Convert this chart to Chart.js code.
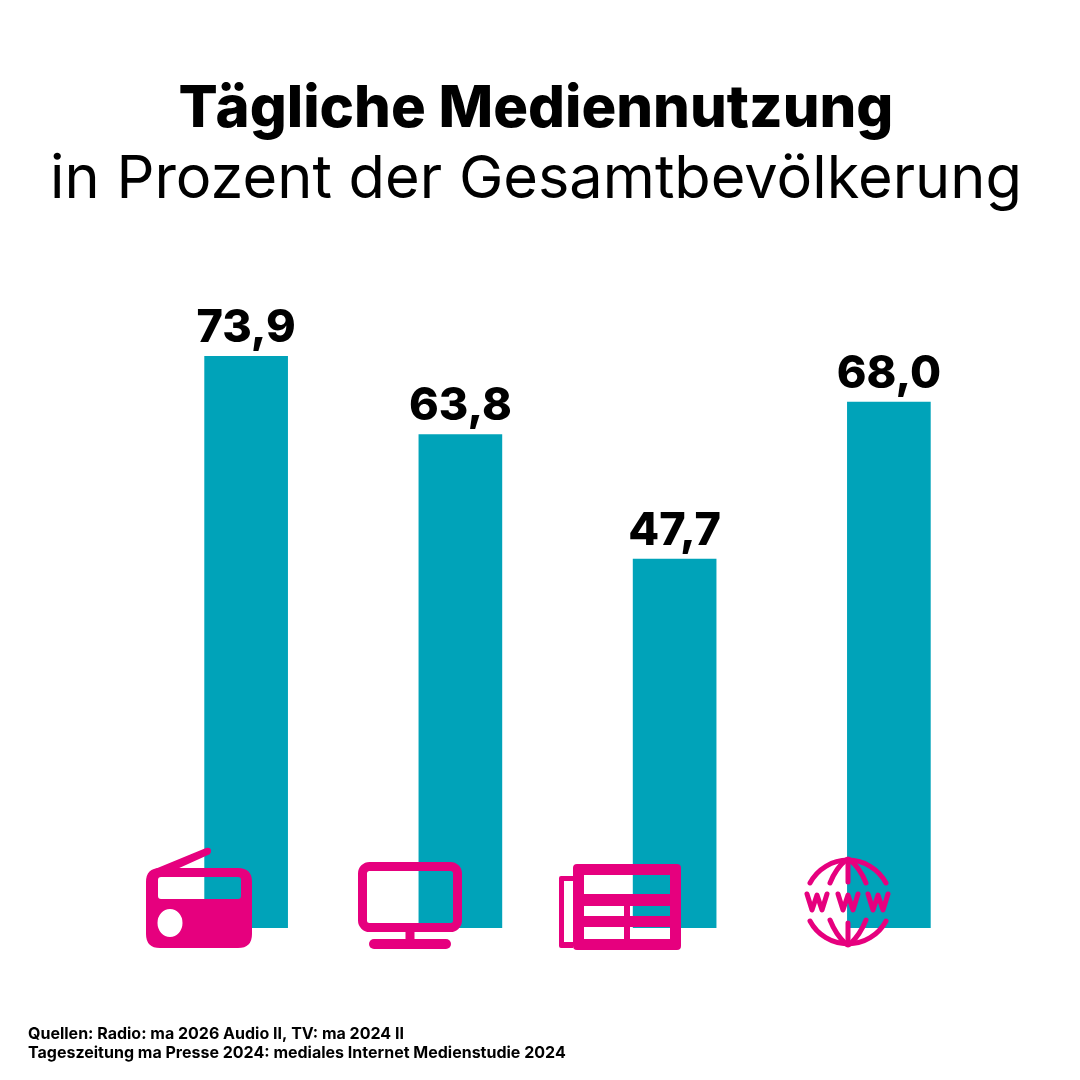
<!DOCTYPE html>
<html lang="de">
<head>
  <meta charset="UTF-8" />
  <title>Tägliche Mediennutzung</title>
  <script src="https://cdn.jsdelivr.net/npm/chart.js"></script>
  <style>
    body { margin: 0; background: #ffffff; }
    .wrap { position: relative; width: 1080px; height: 1080px; }
    canvas { position: absolute; left: 0; top: 0; }
    svg.icons { position: absolute; left: 0; top: 0; }
  </style>
</head>
<body>
  <div class="wrap">
    <canvas id="mediaChart" width="1080" height="1080"></canvas>
    <svg class="icons" width="1080" height="1080" viewBox="0 0 1080 1080">
      <!-- radio -->
      <g fill="#e6007e">
        <path fill-rule="evenodd" d="M160 868 H238 Q252 868 252 882 V934 Q252 948 238 948 H160 Q146 948 146 934 V882 Q146 868 160 868 Z
          M161 877 Q158 877 158 880 V896 Q158 899 161 899 H238 Q241 899 241 896 V880 Q241 877 238 877 Z
          M170 909 A12.5 14 0 1 0 170 937 A12.5 14 0 1 0 170 909 Z" />
        <path d="M155 869 L206 848 Q211 847 211 851 Q211 854 208 855 L177 869 Z" />
      </g>
      <!-- tv -->
      <g fill="none" stroke="#e6007e">
        <rect x="362.5" y="866.5" width="95" height="61" rx="7" stroke-width="9" />
        <line x1="410" y1="932" x2="410" y2="942" stroke-width="9" />
        <line x1="374" y1="944" x2="446" y2="944" stroke-width="10" stroke-linecap="round" />
      </g>
      <!-- newspaper -->
      <g fill="#e6007e">
        <path fill-rule="evenodd" d="M577 864 H677 Q681 864 681 868 V946 Q681 950 677 950 H577 Q573 950 573 946 V868 Q573 864 577 864 Z
          M584 875 V894 H670 V875 Z M584 906 V916 H624 V906 Z M630 906 V916 H670 V906 Z M584 927 V939 H624 V927 Z M630 927 V939 H670 V927 Z" />
        <path fill-rule="evenodd" d="M561 876 H573 V881 H564 V942 H573 V948 H561 Q559 948 559 946 V878 Q559 876 561 876 Z" />
      </g>
      <!-- www globe -->
      <g fill="none" stroke="#e6007e" stroke-width="5" stroke-linecap="round" stroke-linejoin="round">
        <path d="M810 883 A43 43 0 0 1 886 883" />
        <path d="M810 921 A43 43 0 0 0 886 921" />
        <path d="M848 859 V882 M848 923 V945" />
        <path d="M830 883 Q836 868 846 860 M866 883 Q860 868 850 860" />
        <path d="M830 920 Q836 935 846 944 M866 920 Q860 935 850 944" />
        <path d="M807 894 L812 910 L817 895 L822 910 L827 894" />
        <path d="M838 894 L843 910 L848 895 L853 910 L858 894" />
        <path d="M868 894 L873 910 L878 895 L883 910 L888 894" />
      </g>
    </svg>
  </div>

  <script>
    const mediaLabels = ['Radio', 'TV', 'Tageszeitung', 'Internet'];
    const usagePercent = [73.9, 63.8, 47.7, 68.0];
    const sourceLines = [
      'Quellen: Radio: ma 2026 Audio II, TV: ma 2024 II',
      'Tageszeitung ma Presse 2024: mediales Internet Medienstudie 2024'
    ];

    const fontFamily = 'Inter, sans-serif';

    // value labels above the bars, German decimal comma
    const valueLabels = {
      id: 'valueLabels',
      afterDatasetsDraw(chart) {
        const ctx = chart.ctx;
        const bars = chart.getDatasetMeta(0).data;
        ctx.save();
        ctx.fillStyle = '#000000';
        ctx.textAlign = 'center';
        ctx.textBaseline = 'alphabetic';
        ctx.font = '800 45px ' + fontFamily;
        bars.forEach((bar, i) => {
          ctx.fillText(usagePercent[i].toFixed(1).replace('.', ','), bar.x, bar.y - 14);
        });
        ctx.restore();
      }
    };

    const sourceNote = {
      id: 'sourceNote',
      afterDraw(chart) {
        const ctx = chart.ctx;
        ctx.save();
        ctx.fillStyle = '#000000';
        ctx.textAlign = 'left';
        ctx.font = '700 16px ' + fontFamily;
        sourceLines.forEach((line, i) => ctx.fillText(line, 28, 1039 + i * 19));
        ctx.restore();
      }
    };

    new Chart(document.getElementById('mediaChart'), {
      type: 'bar',
      data: {
        labels: mediaLabels,
        datasets: [{
          data: usagePercent,
          backgroundColor: '#00a3b9',
          barThickness: 83
        }]
      },
      plugins: [valueLabels, sourceNote],
      options: {
        responsive: false,
        animation: false,
        layout: { padding: { right: 8, bottom: 152 } },
        plugins: {
          legend: { display: false },
          tooltip: { enabled: false },
          title: {
            display: true,
            text: 'Tägliche Mediennutzung',
            color: '#000000',
            font: { family: fontFamily, size: 58, weight: '800' },
            padding: { top: 75, bottom: 0 }
          },
          subtitle: {
            display: true,
            text: 'in Prozent der Gesamtbevölkerung',
            color: '#000000',
            font: { family: fontFamily, size: 59.5, weight: '400' },
            padding: { top: 0, bottom: 68.4 }
          }
        },
        scales: {
          x: { display: false },
          y: {
            min: 0,
            max: 83.2,
            grid: { display: false },
            border: { display: false },
            ticks: { display: false },
            afterFit(scale) { scale.width = 139; }
          },
          yRight: {
            position: 'right',
            grid: { display: false },
            border: { display: false },
            ticks: { display: false },
            afterFit(scale) { scale.width = 76; }
          }
        }
      }
    });
  </script>
</body>
</html>
